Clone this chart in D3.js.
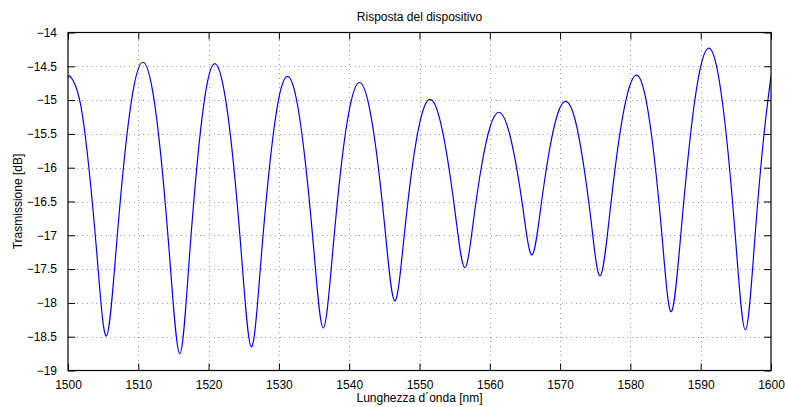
<!DOCTYPE html>
<html>
<head>
<meta charset="utf-8">
<script src="https://cdn.jsdelivr.net/npm/d3@7/dist/d3.min.js"></script>
<style>
  html, body { margin: 0; padding: 0; background: #fff; }
  svg { display: block; font-family: "Liberation Sans", Arial, Helvetica, sans-serif; }
</style>
</head>
<body>
<svg id="chart" width="785" height="407"></svg>
<script>
// Measured transmission spectrum (wavelength in nm, transmission in dB)
const wavelength = [
  1500.00, 1500.40, 1501.66, 1502.93, 1504.19,
  1505.45, 1506.76, 1508.06, 1509.37,
  1510.67, 1511.98, 1513.29, 1514.59,
  1515.90, 1517.14, 1518.39, 1519.63,
  1520.87, 1522.17, 1523.48, 1524.78,
  1526.08, 1527.36, 1528.64, 1529.92,
  1531.20, 1532.48, 1533.75, 1535.03,
  1536.30, 1537.59, 1538.87, 1540.16,
  1541.44, 1542.70, 1543.96, 1545.21,
  1546.47, 1547.72, 1548.96, 1550.21,
  1551.45, 1552.70, 1553.94, 1555.19,
  1556.43, 1557.64, 1558.85, 1560.06,
  1561.27, 1562.45, 1563.64, 1564.82,
  1566.00, 1567.20, 1568.40, 1569.60,
  1570.80, 1572.03, 1573.25, 1574.48,
  1575.70, 1577.00, 1578.30, 1579.60,
  1580.90, 1582.13, 1583.36, 1584.59,
  1585.82, 1587.16, 1588.50, 1589.84,
  1591.18, 1592.47, 1593.77, 1595.06,
  1596.35, 1597.61, 1598.88, 1600.00
];
const transmission = [
  -14.67, -14.66, -15.00, -15.96, -17.38,
  -18.49, -17.32, -15.82, -14.80,
  -14.44, -14.83, -15.91, -17.50,
  -18.75, -17.51, -15.92, -14.85,
  -14.46, -14.84, -15.88, -17.43,
  -18.65, -17.49, -16.01, -15.01,
  -14.65, -14.98, -15.91, -17.29,
  -18.37, -17.32, -15.97, -15.07,
  -14.74, -15.03, -15.84, -17.03,
  -17.97, -17.11, -16.00, -15.26,
  -14.99, -15.21, -15.84, -16.76,
  -17.48, -16.81, -15.96, -15.39,
  -15.18, -15.37, -15.90, -16.68,
  -17.29, -16.63, -15.79, -15.22,
  -15.02, -15.25, -15.90, -16.85,
  -17.60, -16.74, -15.64, -14.90,
  -14.63, -14.95, -15.82, -17.12,
  -18.13, -17.00, -15.56, -14.58,
  -14.23, -14.61, -15.65, -17.19,
  -18.40, -17.18, -15.63, -14.64
];
const xTicks = [1500, 1510, 1520, 1530, 1540, 1550, 1560, 1570, 1580, 1590, 1600];
const yTicks = [-19, -18.5, -18, -17.5, -17, -16.5, -16, -15.5, -15, -14.5, -14];
const titleText = "Risposta del dispositivo";
const xLabelText = "Lunghezza d\u00B4onda [nm]";
const yLabelText = "Trasmissione [dB]";

const svg = d3.select("#chart");
const plot = { left: 68, right: 771, top: 32.5, bottom: 370.5 };

const x = d3.scaleLinear().domain([1500, 1600]).range([plot.left, plot.right]);
const y = d3.scaleLinear().domain([-19, -14]).range([plot.bottom, plot.top]);

const fmt = v => String(v).replace("-", "\u2212");
const tickLen = 7;

// dotted grid
const grid = svg.append("g").attr("stroke", "#9a9a9a").attr("stroke-width", 1)
  .attr("stroke-dasharray", "1,3.7").attr("shape-rendering", "crispEdges");
grid.selectAll("line.vx").data(xTicks.slice(1, -1)).join("line")
  .attr("x1", d => Math.round(x(d)) + 0.5).attr("x2", d => Math.round(x(d)) + 0.5)
  .attr("y1", plot.bottom).attr("y2", plot.top);
grid.selectAll("line.hy").data(yTicks.slice(1, -1)).join("line")
  .attr("y1", d => Math.round(y(d)) + 0.5).attr("y2", d => Math.round(y(d)) + 0.5)
  .attr("x1", plot.left).attr("x2", plot.right);

// spectrum curve
const pts = wavelength.map((w, i) => [w, transmission[i]]);
const line = d3.line().x(d => x(d[0])).y(d => y(d[1])).curve(d3.curveNatural);
svg.append("defs").append("clipPath").attr("id", "clip").append("rect")
  .attr("x", plot.left).attr("y", plot.top)
  .attr("width", plot.right - plot.left).attr("height", plot.bottom - plot.top);
svg.append("path").datum(pts).attr("d", line)
  .attr("fill", "none").attr("stroke", "#0000ff").attr("stroke-width", 1.2)
  .attr("clip-path", "url(#clip)");

// axes with inward ticks on all sides
const xb = d3.axisBottom(x).tickValues(xTicks).tickSizeInner(-tickLen).tickSizeOuter(0).tickPadding(10).tickFormat(d3.format("d"));
const xt = d3.axisTop(x).tickValues(xTicks).tickSizeInner(-tickLen).tickSizeOuter(0).tickFormat("");
const yl = d3.axisLeft(y).tickValues(yTicks).tickSizeInner(-tickLen).tickSizeOuter(0).tickPadding(11).tickFormat(fmt);
const yr = d3.axisRight(y).tickValues(yTicks).tickSizeInner(-tickLen).tickSizeOuter(0).tickFormat("");

function style(g) {
  g.select(".domain").remove();
  g.selectAll(".tick line").attr("stroke", "#000").attr("stroke-width", 1);
  g.selectAll(".tick text").attr("fill", "#000").attr("font-size", 12)
    .attr("font-family", "Liberation Sans, Arial, sans-serif");
}
svg.append("g").attr("transform", `translate(0,${plot.bottom})`).call(xb).call(style);
svg.append("g").attr("transform", `translate(0,${plot.top})`).call(xt).call(style);
svg.append("g").attr("transform", `translate(${plot.left},0)`).call(yl).call(style);
svg.append("g").attr("transform", `translate(${plot.right},0)`).call(yr).call(style);

// frame
svg.append("rect").attr("x", plot.left).attr("y", plot.top)
  .attr("width", plot.right - plot.left).attr("height", plot.bottom - plot.top)
  .attr("fill", "none").attr("stroke", "#000").attr("stroke-width", 1.2);

// labels
svg.append("text").attr("x", (plot.left + plot.right) / 2).attr("y", 21)
  .attr("text-anchor", "middle").attr("font-size", 12).text(titleText);
svg.append("text").attr("x", (plot.left + plot.right) / 2).attr("y", 402)
  .attr("text-anchor", "middle").attr("font-size", 12).text(xLabelText);
svg.append("text").attr("transform", `translate(22,${(plot.top + plot.bottom) / 2}) rotate(-90)`)
  .attr("text-anchor", "middle").attr("font-size", 12).text(yLabelText);
</script>
</body>
</html>
